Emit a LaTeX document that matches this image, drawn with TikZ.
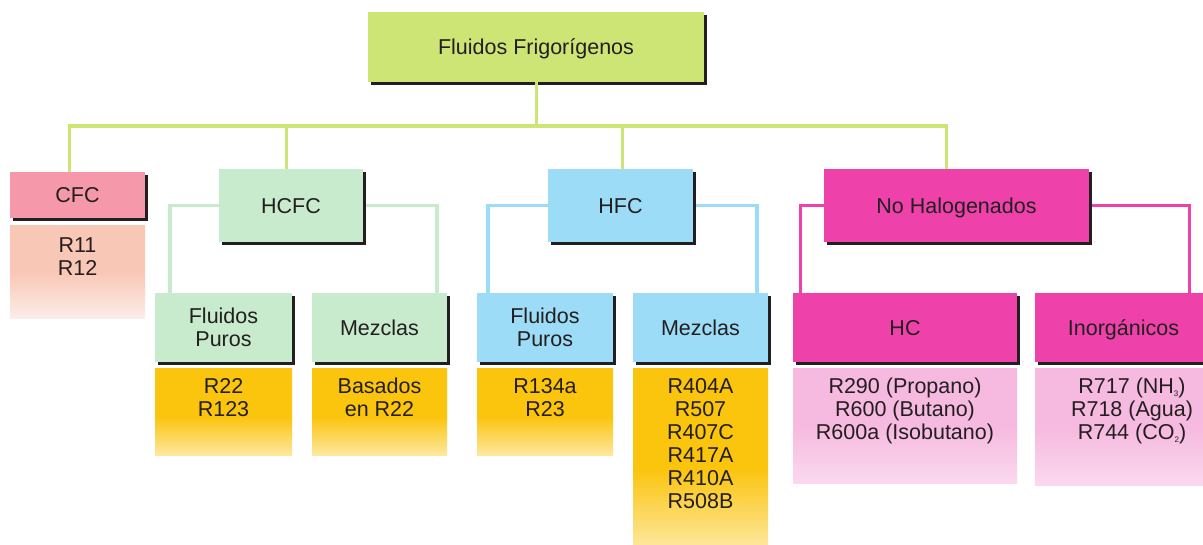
\documentclass[tikz,border=0pt]{standalone}
\usepackage{fontspec}
\setmainfont{Liberation Sans}
\usetikzlibrary{shadows}
\definecolor{lime}{HTML}{CDE574}
\definecolor{cfcpink}{HTML}{F598A9}
\definecolor{hcfcgreen}{HTML}{C8EACD}
\definecolor{hfcblue}{HTML}{9CDCF6}
\definecolor{magent}{HTML}{EE42AA}
\definecolor{txt}{HTML}{231F20}
\definecolor{shadowc}{HTML}{231F20}
\definecolor{yel}{HTML}{FBC40D}
\definecolor{yelL}{HTML}{FDE8A0}
\definecolor{salmon}{HTML}{F9C7B6}
\definecolor{salmonL}{HTML}{FCEDE8}
\definecolor{lpink}{HTML}{F6B9DF}
\definecolor{lpinkL}{HTML}{FAD9EE}
\pgfdeclareverticalshading{yelsh}{100bp}{color(0bp)=(yelL); color(25bp)=(yelL); color(47bp)=(yel); color(100bp)=(yel)}
\pgfdeclareverticalshading{salsh}{100bp}{color(0bp)=(salmonL); color(25bp)=(salmonL); color(50bp)=(salmon); color(100bp)=(salmon)}
\pgfdeclareverticalshading{pinksh}{100bp}{color(0bp)=(lpinkL); color(25bp)=(lpinkL); color(50bp)=(lpink); color(100bp)=(lpink)}
\newcommand\smallsub[1]{\raisebox{-2.5pt}{\fontsize{8}{8}\selectfont #1}}
\tikzset{
  titlebox/.style={draw=none, inner sep=0pt, text=txt, align=center,
    drop shadow={shadow xshift=3pt, shadow yshift=-3pt, fill=shadowc, opacity=1}},
  capc/.style={text height=15pt, text depth=0pt},
  contentbox/.style={draw=none, inner sep=0pt, anchor=north, shade},
  contenttext/.style={inner sep=0pt, anchor=north, align=center, text=txt},
  busline/.style={draw=lime, line width=3pt},
  busbar/.style={draw=lime, line width=4.5pt},
  greenline/.style={draw=hcfcgreen, line width=3.5pt},
  blueline/.style={draw=hfcblue, line width=3.5pt},
  magline/.style={draw=magent, line width=3pt},
}
\begin{document}
\begin{tikzpicture}[x=1pt,y=-1pt,font=\fontsize{21.5}{23}\selectfont]
\clip (0,0) rectangle (1203,544);
\fill[white] (0,0) rectangle (1203,544);

% bus coordinates
\coordinate (busL) at (69,126);
\coordinate (busR) at (946,126);
\coordinate (busHCFC) at (286,126);
\coordinate (busHFC) at (622,126);
\coordinate (topC) at (536,47);

\draw[busbar] ([xshift=-1.5pt]busL) -- ([xshift=1.5pt]busR);

% content boxes
\node[contentbox, shading=salsh, minimum width=135pt, minimum height=93pt] (cfcC) at (77.5,225) {};
\node[contenttext] (cfcT) at (77.5,238) {R11\\R12};

\node[contentbox, shading=yelsh, minimum width=137pt, minimum height=87pt] (hcfcFPC) at (223.5,368) {};
\node[contenttext] (hcfcFPT) at (223.5,378) {R22\\R123};
\node[contentbox, shading=yelsh, minimum width=135pt, minimum height=87pt] (hcfcMzC) at (379.5,368) {};
\node[contenttext] (hcfcMzT) at (379.5,378) {Basados\\en R22};

\node[contentbox, shading=yelsh, minimum width=136pt, minimum height=87pt] (hfcFPC) at (545,368) {};
\node[contenttext] (hfcFPT) at (545,378) {R134a\\R23};
\node[contentbox, shading=yelsh, minimum width=135pt, minimum height=180pt] (hfcMzC) at (700.5,368) {};
\node[contenttext] (hfcMzT) at (700.5,378) {R404A\\R507\\R407C\\R417A\\R410A\\R508B};

\node[contentbox, shading=pinksh, minimum width=224pt, minimum height=115pt] (hcC) at (905,368) {};
\node[contenttext] (hcT) at (905,378) {R290 (Propano)\\R600 (Butano)\\R600a (Isobutano)};
\node[contentbox, shading=pinksh, minimum width=177pt, minimum height=117pt] (inoC) at (1123.5,368) {};
\node[contenttext] (inoT) at (1132,378) {R717 (NH\smallsub{3})\\R718 (Agua)\\R744 (CO\smallsub{2})};

\coordinate (hcfcY) at (291,205.5);
\coordinate (hfcY) at (620.5,205.5);
\coordinate (nohY) at (956.5,205.5);

% title boxes
\node[titlebox, capc, fill=lime, minimum width=336pt, minimum height=70pt] (top) at (topC) {Fluidos Frigorígenos};
\node[titlebox, capc, fill=cfcpink, minimum width=135pt, minimum height=46pt] (cfc) at (77.5,195) {CFC};

\node[titlebox, fill=hcfcgreen, minimum width=137pt, minimum height=69pt] (hcfcFP) at (223.5,327.5) {Fluidos\\Puros};
\node[titlebox, capc, fill=hcfcgreen, minimum width=135pt, minimum height=69pt] (hcfcMz) at (379.5,327.5) {Mezclas};
\node[titlebox, fill=hfcblue, minimum width=136pt, minimum height=69pt] (hfcFP) at (545,327.5) {Fluidos\\Puros};
\node[titlebox, capc, fill=hfcblue, minimum width=135pt, minimum height=69pt] (hfcMz) at (700.5,327.5) {Mezclas};
\node[titlebox, capc, fill=magent, minimum width=224pt, minimum height=69pt] (hc) at (905,327.5) {HC};
\node[titlebox, capc, fill=magent, minimum width=177pt, minimum height=69pt] (ino) at (1123.5,327.5) {Inorgánicos};

% sub connectors
\draw[greenline] (hcfcY) -| ([xshift=15pt]hcfcFP.north west);
\draw[greenline] (hcfcY) -| ([xshift=-10pt]hcfcMz.north east);
\draw[blueline] (hfcY) -| ([xshift=11pt]hfcFP.north west);
\draw[blueline] (hfcY) -| ([xshift=-11pt]hfcMz.north east);
\draw[magline] (nohY) -| ([xshift=8pt]hc.north west);
\draw[magline] (nohY) -| ([xshift=-23pt]ino.north east);

\node[titlebox, capc, fill=hcfcgreen, minimum width=144pt, minimum height=73pt] (hcfc) at (hcfcY) {HCFC};
\node[titlebox, capc, fill=hfcblue, minimum width=145pt, minimum height=73pt] (hfc) at (hfcY) {HFC};
\node[titlebox, capc, fill=magent, minimum width=265pt, minimum height=73pt] (noh) at (nohY) {No Halogenados};

% bus verticals
\draw[busline] (top.south) -- (top.south |- busL);
\draw[busline] (busL) -- (busL |- cfc.north);
\draw[busline] (busHCFC) -- (busHCFC |- hcfc.north);
\draw[busline] (busHFC) -- (busHFC |- hfc.north);
\draw[busline] (busR) -- (busR |- noh.north);
\end{tikzpicture}
\end{document}
